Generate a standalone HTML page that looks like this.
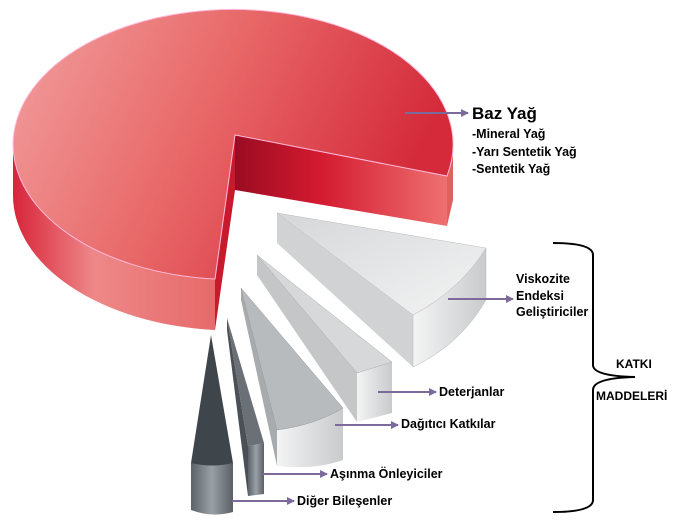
<!DOCTYPE html>
<html><head><meta charset="utf-8"><style>
html,body{margin:0;padding:0;background:#fff;}
svg{display:block;font-family:"Liberation Sans",sans-serif;font-weight:bold;}
</style></head><body>
<svg width="685" height="523" viewBox="0 0 685 523" xmlns="http://www.w3.org/2000/svg">
<defs>
<linearGradient id="rt" x1="0" y1="0" x2="1" y2="0.3">
<stop offset="0" stop-color="#f2a0a0"/><stop offset="0.5" stop-color="#e86868"/><stop offset="1" stop-color="#d42a3a"/></linearGradient>
<linearGradient id="rw" x1="0" y1="0" x2="1" y2="0">
<stop offset="0" stop-color="#d8243a"/><stop offset="0.4" stop-color="#ee8888"/><stop offset="1" stop-color="#e66a6a"/></linearGradient>
<linearGradient id="ri" x1="0" y1="0" x2="1" y2="0">
<stop offset="0" stop-color="#9a0c22"/><stop offset="0.4" stop-color="#d41a30"/><stop offset="1" stop-color="#ee7070"/></linearGradient>
<linearGradient id="gt" x1="0" y1="0" x2="1" y2="1">
<stop offset="0" stop-color="#d4d6d8"/><stop offset="1" stop-color="#f4f4f4"/></linearGradient>
<linearGradient id="gf" x1="0" y1="0" x2="1" y2="0">
<stop offset="0" stop-color="#f4f4f4"/><stop offset="1" stop-color="#c8cacc"/></linearGradient>
<linearGradient id="cy" x1="0" y1="0" x2="1" y2="0">
<stop offset="0" stop-color="#5c6368"/><stop offset="0.5" stop-color="#9aa1a6"/><stop offset="1" stop-color="#5a6065"/></linearGradient>
<marker id="ar" markerWidth="8" markerHeight="8" refX="7" refY="4" orient="auto" markerUnits="userSpaceOnUse">
<path d="M0,0 L8,4 L0,8 Z" fill="#7d6a9c"/></marker>
</defs>
<!-- red pie -->
<path d="M13,145 A220 135 0 0 0 215,279 L215,330 A220 135 0 0 1 13,195 Z" fill="url(#rw)"/>
<path d="M447,176 L447,226 L453,200 L453,145 Z" fill="#e06060"/>
<path d="M235,135 L447,176 L447,226 L235,190 Z" fill="url(#ri)"/>
<path d="M235,135 L215,279 L215,330 L235,190 Z" fill="#c81a2c"/>
<path d="M235,135 L447,176 A220 135 0 1 0 215,279 Z" fill="url(#rt)" stroke="#fbd" stroke-width="1"/>
<!-- slice 1 -->
<path d="M277,213 L413,315 L413,367 L277,243 Z" fill="#d0d2d4"/>
<path d="M413,315 Q460,290 486,248 L486,300 Q460,345 413,367 Z" fill="url(#gf)" stroke="#bbb" stroke-width="0.5"/>
<path d="M277,213 L486,248 Q460,290 413,315 Z" fill="url(#gt)" stroke="#bbb" stroke-width="0.5"/>
<!-- slice 2 -->
<path d="M257,255 L357,373 L357,422 L257,275 Z" fill="#c4c6c8"/>
<path d="M357,373 L392,362 L392,413 L357,422 Z" fill="url(#gf)"/>
<path d="M257,255 L392,362 L357,373 Z" fill="#d6d8da" stroke="#aaa" stroke-width="0.5"/>
<!-- slice 3 -->
<path d="M241,288 L277,430 L277,466 L241,300 Z" fill="#a8abae"/>
<path d="M277,430 Q315,425 343,408 L343,460 Q315,470 277,466 Z" fill="url(#gf)"/>
<path d="M241,288 L343,408 Q315,425 277,430 Z" fill="#b8bbbe" stroke="#999" stroke-width="0.5"/>
<!-- slice 4 -->
<path d="M227,318 L248,446 L248,496 L227,330 Z" fill="#4a5055"/>
<path d="M248,446 L264,443 L264,494 L248,496 Z" fill="url(#cy)"/>
<path d="M227,318 L264,443 L248,446 Z" fill="#6a7075"/>
<!-- slice 5 cone -->
<path d="M191,463 L191,510 Q212,518 233,512 L233,463 Z" fill="url(#cy)"/>
<path d="M211,335 L233,463 Q212,468 191,463 Z" fill="#3f464b"/>
<!-- arrows -->
<g stroke="#7d6a9c" stroke-width="2" fill="none" marker-end="url(#ar)">
<line x1="405" y1="113" x2="468" y2="113"/>
<line x1="448" y1="299" x2="513" y2="299"/>
<line x1="378" y1="392" x2="436" y2="392"/>
<line x1="335" y1="425" x2="398" y2="425"/>
<line x1="263" y1="474" x2="327" y2="474"/>
<line x1="232" y1="501" x2="294" y2="501"/>
</g>
<!-- brace -->
<path d="M553,243 Q593,243 593,255 L593,365 Q593,376 635,377 Q593,378 593,390 L593,500 Q593,512 553,512" fill="none" stroke="#000" stroke-width="2"/>
<!-- text -->
<g fill="#000">
<text x="472" y="119" font-size="17">Baz Yağ</text>
<text x="472" y="138" font-size="12.5">-Mineral Yağ</text>
<text x="472" y="156" font-size="12.5">-Yarı Sentetik Yağ</text>
<text x="472" y="173" font-size="12.5">-Sentetik Yağ</text>
<text x="516" y="283" font-size="12.5">Viskozite</text>
<text x="516" y="300" font-size="12.5">Endeksi</text>
<text x="516" y="316" font-size="12.5">Geliştiriciler</text>
<text x="439" y="396" font-size="12.5">Deterjanlar</text>
<text x="401" y="428" font-size="12.5">Dağıtıcı Katkılar</text>
<text x="330" y="478" font-size="12.5">Aşınma Önleyiciler</text>
<text x="297" y="505" font-size="12.5">Diğer Bileşenler</text>
<text x="616" y="368" font-size="12">KATKI</text>
<text x="596" y="400" font-size="12">MADDELERİ</text>
</g>
</svg>
</body></html>
